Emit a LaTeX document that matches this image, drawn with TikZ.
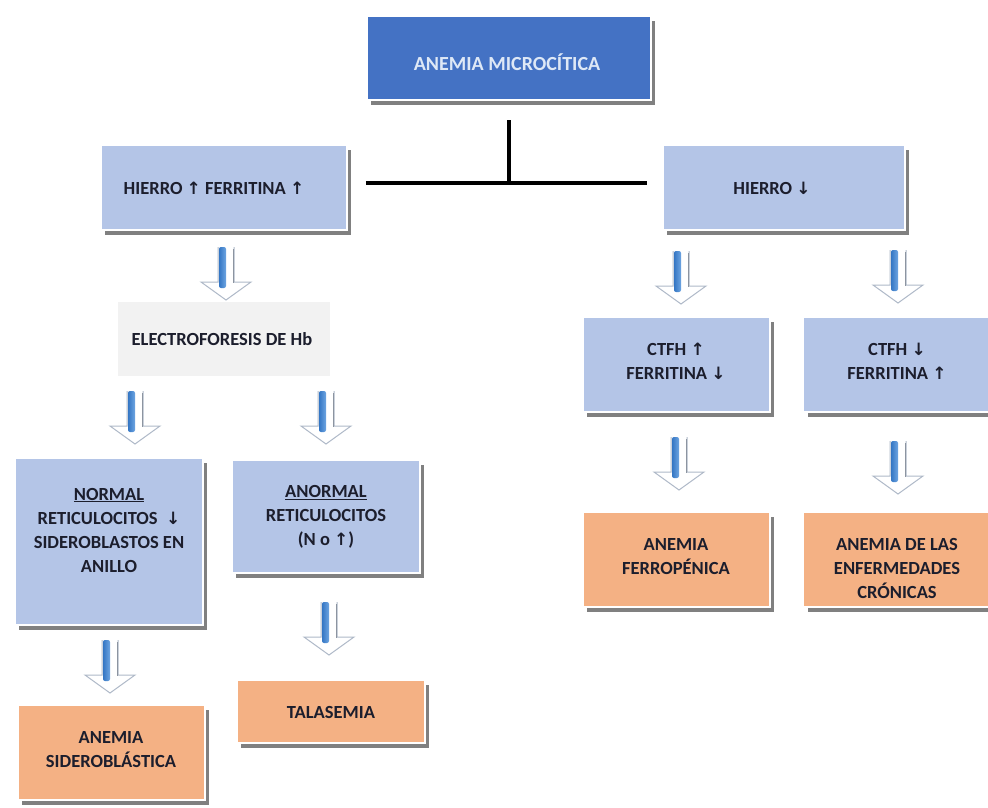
\documentclass[tikz,border=0pt]{standalone}
\usepackage{fontspec}
\setmainfont{Carlito}
\newfontfamily\arrowfont{DejaVu Sans}
\usetikzlibrary{shadows}
\newcommand{\UpA}{{\arrowfont\bfseries\fontsize{17}{24}\selectfont ↑}}
\newcommand{\DnA}{{\arrowfont\bfseries\fontsize{17}{24}\selectfont ↓}}
\definecolor{boxblue}{RGB}{180,197,231}
\definecolor{boxorange}{RGB}{244,177,132}
\definecolor{titleblue}{RGB}{68,114,196}
\definecolor{electrogray}{RGB}{242,242,242}
\definecolor{textdark}{RGB}{28,30,45}
\definecolor{titletext}{RGB}{222,232,246}
\definecolor{arrowdark}{RGB}{52,118,196}
\definecolor{arrowlight}{RGB}{110,165,225}
\definecolor{arrowedge}{RGB}{175,185,200}
\tikzset{
  box/.style={draw=white, line width=1.5pt, inner sep=0pt,
    drop shadow={shadow xshift=4pt, shadow yshift=-5pt, fill=black!50, opacity=1}},
  bluebox/.style={box, fill=boxblue},
  orbox/.style={box, fill=boxorange},
  titlebox/.style={box, fill=titleblue},
  graybox/.style={fill=electrogray, inner sep=0pt},
  txt/.style={font=\bfseries\fontsize{18.5}{24}\selectfont, text=textdark, align=center, inner sep=0pt},
  conn/.style={line width=3.5pt, black},
  barrow/.pic={
    \draw[arrowedge, line width=1pt, fill=white]
      (-8,0) -- (-8,35) -- (-25,35) -- (0,53) -- (25,35) -- (8,35) -- (8,0);
    \draw[arrowedge!80!black, line width=1pt] (7,2) -- (7,36);
    \shade[left color=arrowdark, right color=arrowlight, rounded corners=2pt]
      (-7,0) rectangle (0,41);
  }
}
\begin{document}
\begin{tikzpicture}[x=1pt,y=-1pt]
\useasboundingbox (0,0) rectangle (988,808);
\clip (0,0) rectangle (988,808);
\fill[white] (0,0) rectangle (988,808);

% boxes
\node[titlebox, minimum width=284pt, minimum height=84pt] (top) at (509,58) {};
\node[bluebox, minimum width=246pt, minimum height=85pt] (h1) at (224,187.5) {};
\node[bluebox, minimum width=242pt, minimum height=85pt] (h2) at (784,187.5) {};
\node[graybox, minimum width=212pt, minimum height=74pt] (el) at (224,339) {};
\node[bluebox, minimum width=188pt, minimum height=167pt] (nor) at (109,541.5) {};
\node[bluebox, minimum width=188pt, minimum height=113pt] (anor) at (326,516.5) {};
\node[orbox, minimum width=188pt, minimum height=63pt] (tal) at (331,711.5) {};
\node[orbox, minimum width=187pt, minimum height=95pt] (sid) at (111.5,752.5) {};
\node[bluebox, minimum width=187pt, minimum height=95pt] (c1) at (676.5,364.5) {};
\node[bluebox, minimum width=187pt, minimum height=95pt] (c2) at (897,364.5) {};
\node[orbox, minimum width=187pt, minimum height=95pt] (fer) at (676.5,559.5) {};
\node[orbox, minimum width=187pt, minimum height=95pt] (cro) at (897,559.5) {};

% texts
\node[txt, text=titletext, font=\bfseries\fontsize{20}{24}\selectfont] (ttop) at (507,62) {ANEMIA MICROCÍTICA};
\node[txt] (th1) at (214,188) {HIERRO \UpA{} FERRITINA \UpA};
\node[txt] (th2) at (772,188) {HIERRO \DnA};
\node[txt] (tel) at (222,339) {ELECTROFORESIS DE Hb};
\node[txt] (tnor) at (109,530) {\underline{NORMAL}\\RETICULOCITOS \ \DnA\\SIDEROBLASTOS EN\\ANILLO};
\node[txt] (tanor) at (326,517) {\underline{ANORMAL}\\RETICULOCITOS\\(N o \UpA)};
\node[txt] (ttal) at (331,712) {TALASEMIA};
\node[txt] (tsid) at (111,750) {ANEMIA\\SIDEROBLÁSTICA};
\node[txt] (tc1) at (676,361.5) {CTFH \UpA\\FERRITINA \DnA};
\node[txt] (tc2) at (897,361.5) {CTFH \DnA\\FERRITINA \UpA};
\node[txt] (tfer) at (676,556.5) {ANEMIA\\FERROPÉNICA};
\node[txt] (tcro) at (897,568) {ANEMIA DE LAS\\ENFERMEDADES\\CRÓNICAS};

% connector lines
\coordinate (jn) at (508,183);
\draw[conn] (top.south |- 0,120) -- (top.south |- jn);
\draw[conn] ([xshift=18pt]h1.east |- jn) -- ([xshift=-15pt]h2.west |- jn);

% block arrows
\pic at (226,247) {barrow};
\pic at (135,391) {barrow};
\pic at (326,391) {barrow};
\pic at (110,640) {barrow};
\pic at (329,602) {barrow};
\pic at (681,251) {barrow};
\pic at (898,250) {barrow};
\pic at (679,437) {barrow};
\pic at (898,441) {barrow};
\end{tikzpicture}
\end{document}
